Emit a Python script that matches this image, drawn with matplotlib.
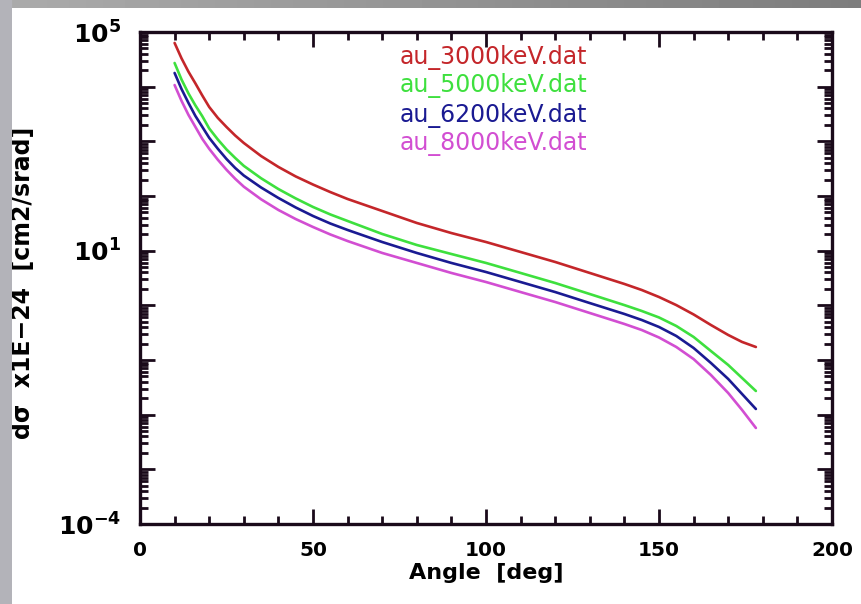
import numpy as np
import matplotlib
matplotlib.use("Agg")
import matplotlib.pyplot as plt
from matplotlib.patches import Rectangle
from matplotlib.ticker import FixedLocator, FixedFormatter, LogLocator, MultipleLocator, NullFormatter

# --- data (angle in deg, cross section x1E-24 cm2/srad) ---
angles = [10, 12, 14, 16, 18, 20, 22.5, 25, 27.5, 30, 35, 40, 45, 50, 55, 60, 70, 80, 90,
          100, 110, 120, 130, 140, 145, 150, 155, 160, 165, 170, 174, 178]

au_3000 = [63000, 33000, 18800, 11500, 6900, 4250, 2680, 1830, 1280, 933, 538, 340, 228, 162,
           118, 88.1, 53.2, 32.1, 21.0, 14.4, 9.46, 6.21, 3.91, 2.46, 1.91, 1.42, 1.01, 0.681,
           0.437, 0.287, 0.214, 0.173]
au_5000 = [27100, 13500, 7540, 4550, 2880, 1720, 1080, 711, 497, 356, 211, 134, 90.3, 63.0,
           46.0, 34.9, 20.2, 12.7, 8.69, 5.96, 3.91, 2.56, 1.61, 1.01, 0.789, 0.600, 0.419,
           0.264, 0.146, 0.0811, 0.0469, 0.0271]
au_6200 = [17800, 9050, 5050, 2920, 1840, 1160, 730, 475, 326, 237, 143, 92.0, 61.7, 43.1,
           31.4, 23.9, 14.4, 9.08, 5.96, 4.07, 2.67, 1.75, 1.10, 0.695, 0.540, 0.402, 0.275,
           0.166, 0.0883, 0.0450, 0.0239, 0.0127]
au_8000 = [10700, 5500, 3050, 1840, 1110, 730, 460, 302, 207, 148, 87.0, 55.5, 37.9, 27.1,
           19.8, 15.0, 9.08, 5.96, 3.91, 2.67, 1.75, 1.15, 0.724, 0.456, 0.354, 0.258, 0.173,
           0.104, 0.0532, 0.0249, 0.0122, 0.00571]

series_names = ["au_3000keV.dat", "au_5000keV.dat", "au_6200keV.dat", "au_8000keV.dat"]
series_vals = [au_3000, au_5000, au_6200, au_8000]
colors = ["#c4262a", "#3ee03e", "#1a1a92", "#d24ed2"]

xticks = [0, 50, 100, 150, 200]
ytick_pos = [10.0 ** k for k in range(-4, 6)]
ytick_lab = ["" for _ in ytick_pos]
ytick_lab[0] = r"$\mathbf{10^{-4}}$"
ytick_lab[5] = r"$\mathbf{10^{1}}$"
ytick_lab[9] = r"$\mathbf{10^{5}}$"

W, H = 861, 604
fig = plt.figure(figsize=(W / 100, H / 100), dpi=100, facecolor="white")
plt.rcParams["mathtext.fontset"] = "dejavusans"

# grey slide frame (left strip + top gradient strip)
fig.patches.append(Rectangle((0, 0), 12 / W, 1, transform=fig.transFigure,
                             facecolor="#b3b3b9", edgecolor="none", zorder=0))
top = fig.add_axes([0, 1 - 8 / H, 1, 8 / H])
top.imshow(np.linspace(0.67, 0.49, 200)[None, :], cmap="gray", vmin=0, vmax=1,
           aspect="auto", extent=[0, 1, 0, 1])
top.axis("off")

ax = fig.add_axes([140 / W, 1 - 524 / H, 692 / W, 492 / H])
for name, vals, c in zip(series_names, series_vals, colors):
    ax.plot(angles, vals, color=c, lw=1.9, solid_capstyle="round", solid_joinstyle="round")

ax.set_yscale("log")
ax.set_xlim(0, 200)
ax.set_ylim(1e-4, 1e5)

ax.xaxis.set_major_locator(FixedLocator(xticks))
ax.xaxis.set_minor_locator(MultipleLocator(10))
ax.yaxis.set_major_locator(FixedLocator(ytick_pos))
ax.yaxis.set_major_formatter(FixedFormatter(ytick_lab))
ax.yaxis.set_minor_locator(LogLocator(base=10, subs=np.arange(2, 10), numticks=200))
ax.yaxis.set_minor_formatter(NullFormatter())

ax.tick_params(which="both", direction="in", top=True, right=True, width=2, color="#1a0a1a")
ax.tick_params(which="major", length=11)
ax.tick_params(which="minor", length=6)
ax.tick_params(axis="x", which="major", labelsize=14.5, pad=12)
ax.tick_params(axis="y", which="major", labelsize=18, pad=14)
for lab in ax.get_xticklabels():
    lab.set_fontweight("bold")
for sp in ax.spines.values():
    sp.set_linewidth(2.4)
    sp.set_color("#1a0a1a")

ax.set_xlabel("Angle  [deg]", fontsize=16, fontweight="bold")
ax.xaxis.set_label_coords(0.5, -0.08)
ax.set_ylabel("d\u03c3  x1E\u221224  [cm2/srad]", fontsize=17, fontweight="bold")
ax.yaxis.set_label_coords(-0.152, 0.49)

# legend as coloured text
legend_y = [57, 86, 115, 144]
for name, c, yp in zip(series_names, colors, legend_y):
    fig.text(400 / W, 1 - yp / H, name, color=c, fontsize=17, va="center", ha="left")

fig.savefig("out.png", dpi=100, facecolor="white")
